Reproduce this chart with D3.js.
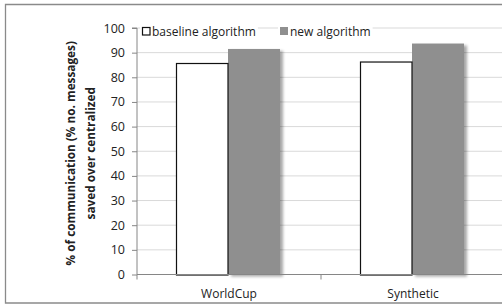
<!DOCTYPE html>
<html>
<head>
<meta charset="utf-8">
<script src="https://cdn.jsdelivr.net/npm/d3@7"></script>
<style>
  html, body { margin: 0; background: #fff; overflow: hidden; }
  svg { display: block; }
  text { font-family: "Open Sans", sans-serif; fill: #222; }
</style>
</head>
<body>
<svg id="root"></svg>
<script>
// data
const categories = ["WorldCup", "Synthetic"]
const seriesNames = ["baseline algorithm", "new algorithm"]
const baselineValues = [85.8, 86.4]
const newValues = [91.5, 93.7]
const yTicks = [0, 10, 20, 30, 40, 50, 60, 70, 80, 90, 100]
const yTitleLines = ["% of communication (% no. messages)", "saved over centralized"]

const width = 502, height = 306
const svg = d3.select("#root").attr("width", width).attr("height", height)

// chart frame, its right side is cut off in the picture
svg.append("path")
  .attr("d", `M${width + 10},4.5H5.5V303H${width + 10}`)
  .attr("fill", "none")
  .attr("stroke", "#8a8a8a")
  .attr("stroke-width", 1.3)

// shadow for the gray bars
const defs = svg.append("defs")
const f = defs.append("filter").attr("id", "shadow")
  .attr("x", "-20%").attr("y", "-20%").attr("width", "150%").attr("height", "150%")
f.append("feGaussianBlur").attr("in", "SourceAlpha").attr("stdDeviation", 1.6)
f.append("feOffset").attr("dx", 2.5).attr("dy", 1.5).attr("result", "blur")
f.append("feComponentTransfer").append("feFuncA").attr("type", "linear").attr("slope", 0.35)
const merge = f.append("feMerge")
merge.append("feMergeNode")
merge.append("feMergeNode").attr("in", "SourceGraphic")

const plot = { left: 137, right: 505, top: 28, bottom: 274.5 }

const x = d3.scaleBand(categories, [plot.left, plot.right])
const inner = d3.scaleBand(seriesNames, [0, 104])
const y = d3.scaleLinear([0, 100], [plot.bottom, plot.top])

// gridlines
svg.append("g")
  .selectAll("line")
  .data(yTicks.filter(d => d > 0))
  .join("line")
  .attr("x1", plot.left).attr("x2", plot.right)
  .attr("y1", d => y(d)).attr("y2", d => y(d))
  .attr("stroke", "#d9d9d9")
  .attr("stroke-width", 1)

// bars
const groupOffset = (x.bandwidth() - 104) / 2 - 1
const rows = categories.map((c, i) => ({ cat: c, vals: [baselineValues[i], newValues[i]] }))

rows.forEach(r => {
  const gx = x(r.cat) + groupOffset
  // new algorithm (gray, with shadow)
  svg.append("rect")
    .attr("x", gx + inner(seriesNames[1]))
    .attr("y", y(r.vals[1]))
    .attr("width", inner.bandwidth())
    .attr("height", y(0) - y(r.vals[1]))
    .attr("fill", "#8f8f8f")
    .attr("filter", "url(#shadow)")
  // baseline (white, black outline)
  svg.append("rect")
    .attr("x", gx + inner(seriesNames[0]) + 0.5)
    .attr("y", y(r.vals[0]) + 0.5)
    .attr("width", inner.bandwidth() - 0.5)
    .attr("height", y(0) - y(r.vals[0]))
    .attr("fill", "#fff")
    .attr("stroke", "#111")
    .attr("stroke-width", 1.2)
})

// y axis
const yAxis = svg.append("g")
  .attr("transform", `translate(${plot.left},0)`)
  .call(d3.axisLeft(y).tickValues(yTicks).tickSize(5).tickPadding(7))
yAxis.select(".domain").attr("stroke", "#868686").attr("d", `M-5,${y(100)}H0V${y(0)}`)
yAxis.selectAll(".tick line").attr("stroke", "#868686")
yAxis.selectAll(".tick text")
  .attr("font-family", "Open Sans, sans-serif")
  .attr("font-size", 12.5)
  .attr("fill", "#222")

// x axis
const xAxis = svg.append("g")
  .attr("transform", `translate(0,${plot.bottom})`)
  .call(d3.axisBottom(x).tickSize(0).tickPadding(15))
xAxis.select(".domain").attr("stroke", "#868686").attr("d", `M${plot.left},0H${plot.right}`)
xAxis.selectAll(".tick text")
  .attr("font-family", "Open Sans, sans-serif")
  .attr("font-size", 12)
  .attr("fill", "#222")
// category separators
xAxis.selectAll("line.sep")
  .data([plot.left, x(categories[1]), plot.right])
  .join("line")
  .attr("class", "sep")
  .attr("x1", d => d).attr("x2", d => d)
  .attr("y1", 0).attr("y2", 5)
  .attr("stroke", "#868686")

// y title
const yTitle = svg.append("text")
  .attr("transform", `translate(75,${(plot.top + plot.bottom) / 2 + 2}) rotate(-90)`)
  .attr("text-anchor", "middle")
  .attr("font-size", 11.8)
  .attr("font-weight", "bold")
yTitle.selectAll("tspan")
  .data(yTitleLines)
  .join("tspan")
  .attr("x", 0)
  .attr("dy", (d, i) => i == 0 ? 0 : 20)
  .text(d => d)

// legend
const legendX = [141, 279]
const legend = svg.append("g")
seriesNames.forEach((name, i) => {
  const g = legend.append("g").attr("transform", `translate(${legendX[i]},0)`)
  const t = g.append("text")
    .attr("x", 11).attr("y", 36)
    .attr("font-size", 12)
    .text(name)
  const w = t.node().getComputedTextLength()
  g.insert("rect", "text")
    .attr("x", -1).attr("y", 24)
    .attr("width", w + 14).attr("height", 14)
    .attr("fill", "#fff")
  g.append("rect")
    .attr("x", i == 0 ? 1.5 : 1).attr("y", i == 0 ? 27.5 : 27)
    .attr("width", i == 0 ? 7.5 : 8).attr("height", i == 0 ? 7.5 : 8)
    .attr("fill", i == 0 ? "#fff" : "#8f8f8f")
    .attr("stroke", i == 0 ? "#111" : "none")
    .attr("stroke-width", 1.2)
})
</script>
</body>
</html>
